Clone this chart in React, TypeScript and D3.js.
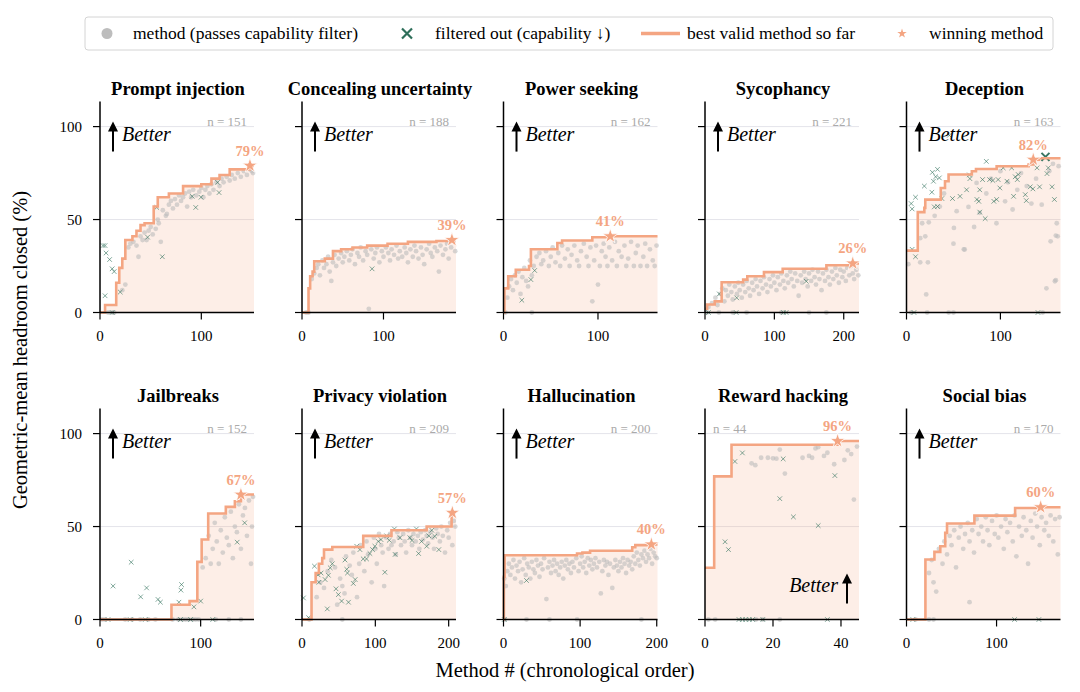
import * as d3 from 'd3'

type Pt = [number, number]

const SERIF = '"Liberation Serif", "Times New Roman", Times, serif'
const ORANGE = '#f4a582'
const GREEN = '#2e6f5a'
const GRAY = '#bdbdbd'

// ---- panel meta ----
const titles = [
  'Prompt injection', 'Concealing uncertainty', 'Power seeking', 'Sycophancy', 'Deception',
  'Jailbreaks', 'Privacy violation', 'Hallucination', 'Reward hacking', 'Social bias',
]
const counts = [151, 188, 162, 221, 163, 152, 209, 200, 44, 170]
const xLimits = [152, 189, 163, 222, 164, 153, 210, 201, 45.3, 171]
const xTicks = [[0, 100], [0, 100], [0, 100], [0, 100, 200], [0, 100], [0, 100], [0, 100, 200], [0, 100, 200], [0, 20, 40], [0, 100]]
const yTicks = [0, 50, 100]
const winners: Pt[] = [[148, 79], [184, 39], [113, 41], [213, 26.4], [135, 82.2], [140, 67.2], [205, 57.4], [193, 40.4], [39, 96], [149, 60.4]]

// ---- prompt injection ----
const promptBest: Pt[] = [[0, 0], [5, 4], [16, 16], [19, 24], [22, 29], [25, 39], [32, 41], [36, 44], [40, 47], [44, 48], [53, 57], [57, 62], [68, 64], [82, 68], [100, 69], [110, 72], [118, 74], [128, 77], [148, 79]]
const promptGray: Pt[] = [[8, 0], [12, 0], [14, 0], [22, 12], [25, 15], [28, 35], [30, 37], [33, 38], [36, 36], [38, 30], [40, 41], [42, 39], [44, 43], [46, 39], [48, 44], [50, 46], [52, 42], [55, 45], [57, 50], [58, 48], [60, 38], [62, 55], [65, 52], [66, 53], [68, 58], [70, 60], [72, 56], [74, 61], [76, 58], [78, 63], [80, 60], [82, 62], [84, 64], [86, 57], [88, 65], [90, 62], [92, 66], [95, 63], [98, 65], [100, 67], [102, 62], [104, 66], [106, 68], [108, 64], [110, 69], [112, 66], [115, 70], [118, 68], [120, 72], [122, 70], [125, 73], [128, 71], [130, 74], [133, 72], [136, 75], [139, 73], [142, 76], [145, 74], [148, 77], [150, 76], [151, 75]]
const promptOut: Pt[] = [[3, 36], [5, 36], [6, 32], [9.5, 28.5], [12, 23.5], [14, 22], [5, 9], [20, 11], [12, 0], [47, 40.5], [56, 56.5], [61.5, 30], [91, 62.5], [94.5, 56.5], [99.7, 62], [116, 70], [117.5, 64.5]]

// ---- concealing uncertainty ----
const concealBest: Pt[] = [[0, 0], [8, 13], [10, 19.5], [13, 22], [15, 27.6], [28, 29], [38, 33], [48, 34], [62, 35], [80, 36], [105, 37], [130, 38], [165, 38.5], [184, 39]]
const concealGray: Pt[] = [[5, 0], [8, 0], [12, 18], [15, 21], [18, 24], [20, 26], [22, 20], [25, 28], [27, 24], [30, 26], [32, 30], [34, 22], [36, 17], [38, 27], [40, 31], [42, 25], [45, 29], [48, 32], [50, 27], [52, 30], [55, 33], [58, 28], [60, 31], [62, 34], [65, 26], [68, 32], [70, 30], [72, 35], [75, 28], [78, 33], [80, 31], [82, 2], [85, 34], [88, 29], [90, 32], [92, 35], [95, 27], [98, 33], [100, 30], [103, 35], [106, 32], [108, 28], [110, 34], [113, 31], [116, 36], [118, 29], [120, 33], [123, 30], [126, 35], [128, 32], [130, 27], [133, 34], [136, 30], [138, 36], [140, 33], [143, 29], [146, 35], [148, 31], [150, 26], [153, 34], [156, 37], [158, 32], [160, 30], [163, 35], [166, 33], [168, 22], [170, 36], [173, 31], [176, 34], [178, 37], [180, 29], [183, 35], [186, 38], [188, 33]]
const concealOut: Pt[] = [[86, 23.5]]

// ---- power seeking ----
const powerBest: Pt[] = [[0, 0], [1, 13], [5, 19.5], [13, 23], [27, 25], [29, 34], [57, 37.4], [62, 38.7], [94, 40.5], [113, 41]]
const powerGray: Pt[] = [[2, 0], [30, 0], [4, 8], [6, 14], [8, 18], [10, 12], [12, 20], [14, 16], [16, 22], [18, 10], [20, 19], [22, 24], [24, 17], [26, 14], [28, 28], [30, 20], [32, 25], [35, 30], [38, 32], [40, 26], [42, 28], [45, 33], [48, 25], [50, 30], [52, 35], [55, 27], [58, 32], [60, 25], [62, 36], [65, 29], [68, 34], [70, 25], [72, 31], [75, 36], [78, 28], [80, 25], [82, 33], [85, 37], [88, 30], [90, 25], [92, 35], [94, 6], [96, 28], [98, 36], [100, 15], [102, 25], [104, 33], [106, 37], [108, 30], [110, 25], [112, 35], [115, 28], [118, 38], [120, 25], [122, 33], [125, 30], [128, 36], [130, 25], [132, 29], [135, 38], [138, 25], [140, 32], [142, 36], [145, 25], [148, 30], [150, 37], [152, 25], [155, 34], [158, 28], [160, 25], [162, 36]]
const powerOut: Pt[] = [[19.4, 6.6], [29, 17.7], [33, 22.6]]

// ---- sycophancy ----
const sycoBest: Pt[] = [[0, 2], [3, 4.3], [14, 6], [24, 16.3], [55, 17.7], [61, 19.5], [85, 21.7], [112, 23.5], [175, 25.4], [213, 26.4]]
const sycoGray: Pt[] = [[3, 0], [20, 0], [40, 0], [60, 0], [110, 0], [150, 0], [175, 0], [5, 3], [10, 5], [15, 8], [18, 4], [22, 10], [25, 13], [28, 6], [30, 12], [33, 9], [35, 15], [38, 11], [40, 7], [43, 14], [46, 10], [48, 16], [50, 12], [53, 8], [55, 15], [58, 11], [60, 17], [63, 13], [65, 9], [68, 16], [70, 12], [73, 18], [75, 14], [78, 10], [80, 17], [83, 13], [85, 19], [88, 15], [90, 11], [93, 18], [95, 14], [98, 20], [100, 16], [103, 12], [105, 19], [108, 15], [110, 21], [113, 17], [115, 13], [118, 20], [120, 16], [123, 22], [125, 18], [128, 14], [130, 21], [133, 17], [135, 9], [138, 20], [140, 16], [143, 22], [145, 18], [148, 14], [150, 21], [153, 17], [155, 23], [158, 19], [160, 15], [163, 22], [165, 18], [168, 12], [170, 21], [173, 17], [175, 23], [178, 19], [180, 15], [183, 22], [185, 18], [188, 24], [190, 20], [193, 16], [195, 23], [198, 19], [200, 22], [203, 17], [205, 24], [208, 20], [210, 25], [213, 21], [215, 18], [218, 23], [221, 20]]
const sycoOut: Pt[] = [[20.6, 10], [45.7, 7.9], [146, 16.8], [5, 0], [45, 0], [113, 0], [117, 0]]

// ---- deception ----
const decepBest: Pt[] = [[0, 33.3], [12, 54], [19, 56.3], [20, 60.7], [36.5, 67], [41, 70.6], [44.8, 74.2], [69.6, 76], [74, 77.2], [96, 78.7], [130, 79.6], [135, 82.2], [141, 83]]
const decepGray: Pt[] = [[5, 0], [22, 0], [45, 0], [50, 0], [145, 0], [2, 26], [14.6, 27], [22.8, 27], [21, 9.7], [14.6, 40], [20, 41], [16.7, 48], [23.7, 48.5], [35.5, 57], [30, 52], [40, 64], [50, 37], [50.5, 45.5], [53.4, 54.5], [61, 34], [62, 33.9], [66, 56.8], [72, 46], [74.6, 69.7], [78, 53.6], [85, 64], [90, 72], [95.8, 48], [100, 76], [105, 59.8], [108, 70], [113, 55.4], [118, 66], [122, 75], [128, 68], [133, 58.6], [138, 72], [144, 58], [149, 13], [152, 76], [153.5, 38.3], [158, 16.8], [159, 41.4], [159, 17.4], [160, 48], [161, 41], [162, 78.7], [156, 80]]
const decepOut: Pt[] = [[8, 0], [140, 0], [6, 34], [9.6, 30], [5, 58.6], [6, 55.7], [9.6, 62], [19, 68], [27, 64.7], [27.6, 75.4], [33, 77], [31, 73], [28.7, 70.6], [35, 72.4], [29.6, 56.8], [33, 57], [37.7, 61.3], [45.6, 95.3], [49, 61.3], [57, 62.5], [64, 66], [67, 74], [67.5, 72], [75, 60.8], [77, 59.8], [78, 66], [78, 54], [81, 71.5], [83.8, 50.5], [85, 81.3], [88.5, 71.5], [92, 71], [93, 59.8], [96, 60.8], [97.6, 71.5], [99.4, 67], [103, 77.8], [107, 70.6], [112, 77.8], [114, 62.5], [115.8, 73], [118, 71.5], [119, 74.2], [126.5, 63.4], [127.6, 60.2], [131.8, 67.6], [134.6, 66.5], [139, 77.8], [141.7, 67.6], [149.6, 74.7], [151, 77.8], [155, 67.6], [157.5, 60.8]]
const decepTopOut: Pt = [148, 83.7]

// ---- jailbreaks ----
const jailBest: Pt[] = [[0, 0], [71, 7.9], [89, 9.9], [96.7, 31], [101, 43], [107.5, 57], [125, 60.6], [134, 63.6], [140, 67.2]]
const jailGray: Pt[] = [[2, 0], [5, 0], [25, 0], [32, 0], [40, 0], [48, 0], [55, 0], [72, 0], [78, 0], [82, 0], [85, 0], [88, 0], [92, 0], [95, 0], [98, 0], [115, 0], [128, 0], [140, 0], [102, 28], [105, 33], [108, 45], [110, 30], [112, 38], [114, 52], [116, 42], [118, 30], [120, 48], [122, 36], [124, 55], [126, 44], [128, 40], [130, 58], [132, 33], [134, 50], [136, 47], [138, 62], [140, 38], [142, 56], [144, 60], [146, 45], [148, 64], [150, 30], [151, 50], [152, 66]]
const jailOut: Pt[] = [[8, 0], [30, 0], [45, 0], [80, 0], [90, 0], [112, 0], [13, 18], [31, 30.8], [40.4, 12.2], [46.3, 17], [57.6, 10.8], [60, 9.3], [78.4, 9.3], [81, 18.8], [80.4, 15.8], [93.3, 6.8], [100, 9.9], [136.3, 41.6], [143.7, 52]]

// ---- privacy violation ----
const privBest: Pt[] = [[0, 0], [13, 20], [18.6, 25], [23, 30], [27.6, 33], [30, 37.6], [41.3, 39], [83.5, 45], [122, 48], [170, 50], [204, 57.4]]
const privGray: Pt[] = [[10, 0], [55, 0], [20, 12], [25, 20], [30, 17], [35, 26], [40, 32], [45, 28], [48, 8], [52, 22], [55, 18], [58, 14], [60, 34], [65, 29], [68, 24], [70, 36], [75, 12], [78, 30], [80, 40], [85, 26], [88, 42], [90, 35], [95, 20], [98, 44], [100, 38], [102, 30], [105, 46], [108, 40], [110, 36], [112, 18], [115, 44], [118, 38], [120, 46], [122, 40], [125, 42], [128, 35], [130, 47], [132, 44], [135, 40], [138, 46], [140, 42], [142, 36], [145, 48], [148, 44], [150, 40], [152, 46], [155, 42], [158, 45], [160, 38], [162, 47], [165, 43], [168, 48], [170, 45], [172, 41], [175, 47], [178, 44], [180, 38], [183, 49], [185, 46], [188, 42], [190, 50], [192, 45], [195, 36], [198, 48], [200, 44], [202, 52], [205, 40], [207, 53], [209, 50]]
const privOut: Pt[] = [[2, 11.6], [9, 1], [17, 28.7], [22, 24], [23, 20], [26, 25], [31.5, 21.5], [36, 23.8], [38.5, 27.8], [34.5, 5.7], [41.3, 30], [46.4, 16.5], [49.6, 13.4], [58.6, 32], [61, 27], [62, 25], [54, 9.9], [63.4, 9.3], [70, 19.4], [72.5, 21.5], [79, 37.6], [74.6, 39.4], [83.5, 32.6], [88, 32.6], [92.6, 35.5], [96.2, 37.6], [99.4, 39.4], [104, 42], [107.7, 43], [113, 25.4], [115.5, 45], [119, 42.6], [126, 48.7], [127, 35], [133.6, 44], [147, 44], [150, 42.5], [156, 48.7], [159, 35.5], [163, 42], [170, 39.4], [173, 45], [181, 44.8], [186.6, 37.6], [177, 48]]

// ---- hallucination ----
const hallBest: Pt[] = [[0, 0], [0.5, 23], [1.5, 34.6], [96, 35.5], [103, 36], [113, 37], [168, 38.9], [172, 40], [193, 40.4]]
const hallGray: Pt[] = [[2, 0], [30, 0], [60, 0], [96, 0], [180, 0], [1, 22], [3, 18], [5, 26], [7, 30], [9, 24], [11, 28], [13, 32], [15, 22], [17, 29], [19, 26], [21, 31], [23, 20], [25, 27], [27, 33], [29, 24], [31, 30], [33, 28], [35, 22], [37, 31], [39, 27], [41, 25], [43, 32], [45, 29], [47, 23], [49, 30], [51, 27], [53, 33], [56, 11], [58, 28], [60, 31], [62, 25], [64, 29], [66, 32], [68, 26], [70, 30], [72, 24], [74, 28], [76, 31], [78, 22], [80, 29], [82, 32], [84, 27], [86, 30], [88, 25], [90, 31], [92, 28], [95, 33], [98, 26], [100, 30], [102, 34], [104, 28], [106, 31], [108, 25], [110, 33], [112, 29], [114, 32], [116, 27], [118, 30], [120, 33], [122, 28], [125, 31], [127, 14], [129, 26], [131, 32], [133, 29], [135, 31], [137, 24], [139, 30], [142, 17], [144, 28], [146, 32], [148, 29], [150, 26], [152, 31], [154, 28], [156, 33], [158, 30], [160, 25], [162, 32], [164, 29], [166, 31], [168, 27], [170, 34], [172, 30], [174, 36], [176, 32], [178, 29], [180, 35], [182, 33], [184, 37], [186, 31], [188, 35], [190, 33], [192, 38], [194, 30], [196, 36], [198, 34], [200, 33]]
const hallOut: Pt[] = [[1, 0], [30, 21]]

// ---- reward hacking ----
const rewardBest: Pt[] = [[0, 27.8], [2.7, 77], [7.8, 94], [39, 96]]
const rewardGray: Pt[] = [[1, 0], [3, 0], [15, 0], [17, 0], [22, 0], [13.7, 84], [14.8, 83], [16.5, 87], [18.5, 87], [20, 86.7], [21, 86.5], [22, 91.4], [23.5, 78.5], [28.7, 87], [30.6, 88], [31.5, 87], [32.5, 92], [33.3, 92.7], [35, 88], [36, 89.7], [38, 83.5], [41, 85.8], [42, 91], [43, 89], [44.7, 93], [43.8, 64.5]]
const rewardOut: Pt[] = [[10, 0], [11, 0], [12, 0], [13, 0], [14, 0], [17, 0], [36, 0], [5.9, 41.8], [6.9, 37.6], [8.8, 85], [11, 89.6], [23, 86.4], [22, 65], [26, 55.2], [33.3, 50.5], [38.2, 77.4]]

// ---- social bias ----
const socialBest: Pt[] = [[0, 0], [21, 32.3], [31, 36.4], [37.5, 39.4], [43, 46.6], [45, 51.6], [75.4, 55.9], [120.6, 60], [149, 60.4]]
const socialGray: Pt[] = [[10, 0], [25, 0], [30, 0], [25, 25], [28, 32], [30, 20], [33, 15], [36, 38], [40, 30], [42, 42], [45, 35], [48, 45], [50, 40], [53, 48], [55, 28], [58, 44], [60, 50], [63, 38], [65, 46], [68, 52], [70, 9.3], [70, 42], [73, 48], [75, 36], [78, 54], [80, 46], [83, 50], [85, 42], [88, 55], [90, 48], [92, 40], [95, 53], [98, 46], [100, 56], [102, 44], [105, 50], [108, 38], [110, 54], [112, 47], [115, 52], [118, 42], [120, 56], [122, 34], [125, 50], [128, 45], [130, 55], [133, 48], [135, 30], [138, 53], [140, 44], [143, 57], [145, 50], [148, 40], [150, 55], [153, 48], [155, 52], [158, 45], [160, 56], [163, 42], [165, 54], [168, 35], [170, 55]]
const socialOut: Pt[] = [[7, 0], [120, 0], [147, 0]]

const bestSets = [promptBest, concealBest, powerBest, sycoBest, decepBest, jailBest, privBest, hallBest, rewardBest, socialBest]
const graySets = [promptGray, concealGray, powerGray, sycoGray, decepGray, jailGray, privGray, hallGray, rewardGray, socialGray]
const outSets = [promptOut, concealOut, powerOut, sycoOut, decepOut, jailOut, privOut, hallOut, rewardOut, socialOut]

// ---- layout ----
const colLeft = [100, 302, 503.5, 705, 906.5]
const rowBase = [312.5, 619.5]
const PW = 154
const PH = 211

const starPath = (size: number) => d3.symbol(d3.symbolStar, size)() as string

function Cross({ cx, cy, r, color, width, opacity }: { cx: number; cy: number; r: number; color: string; width: number; opacity: number }) {
  return (
    <path
      d={`M${cx - r},${cy - r}L${cx + r},${cy + r}M${cx - r},${cy + r}L${cx + r},${cy - r}`}
      stroke={color}
      strokeWidth={width}
      opacity={opacity}
      fill="none"
    />
  )
}

function Panel({ i }: { i: number }) {
  const col = i % 5
  const row = Math.floor(i / 5)
  const L = colLeft[col]
  const B = rowBase[row]
  const x = d3.scaleLinear().domain([0, xLimits[i]]).range([L, L + PW])
  const y = d3.scaleLinear().domain([0, 113.5]).range([B, B - PH])
  const best = bestSets[i]
  const stepPts: Pt[] = [...best, [xLimits[i], best[best.length - 1][1]]]
  const line = d3.line<Pt>().x((d) => x(d[0])).y((d) => y(d[1])).curve(d3.curveStepAfter)
  const area = d3.area<Pt>().x((d) => x(d[0])).y0(y(0)).y1((d) => y(d[1])).curve(d3.curveStepAfter)
  const [wx, wy] = winners[i]
  const isReward = i === 8
  const arrowX = isReward ? L + 142 : L + 13
  const arrowTip = isReward ? B - 46 : y(100) - 5
  const arrowTail = isReward ? B - 16 : y(100) + 25

  return (
    <g>
      {[50, 100].map((v) => (
        <line key={v} x1={L} x2={L + PW} y1={y(v)} y2={y(v)} stroke="#e4e4ea" strokeWidth={1} />
      ))}
      <path d={area(stepPts) as string} fill={ORANGE} fillOpacity={0.19} />
      {graySets[i].map((d, k) => (
        <circle key={k} cx={x(d[0])} cy={y(d[1])} r={2.4} fill={GRAY} fillOpacity={0.6} />
      ))}
      {outSets[i].map((d, k) => (
        <Cross key={k} cx={x(d[0])} cy={y(d[1])} r={2.3} color={GREEN} width={1} opacity={0.6} />
      ))}
      {i === 4 && (
        <Cross cx={x(decepTopOut[0])} cy={y(decepTopOut[1])} r={4} color={GREEN} width={2} opacity={0.95} />
      )}
      <path d={line(stepPts) as string} fill="none" stroke={ORANGE} strokeWidth={2.6} />
      <path d={starPath(70)} transform={`translate(${x(wx)},${y(wy)})`} fill={ORANGE} stroke="#fff" strokeWidth={0.8} />
      <text x={x(wx)} y={y(wy) - 10} textAnchor="middle" fontFamily={SERIF} fontWeight="bold" fontSize={14.5} fill={ORANGE}>
        {`${Math.round(wy)}%`}
      </text>

      {/* spines */}
      <line x1={L} x2={L} y1={B} y2={B - PH} stroke="#000" strokeWidth={1.5} />
      <line x1={L} x2={L + PW} y1={B} y2={B} stroke="#000" strokeWidth={1.5} />
      {yTicks.map((v) => (
        <g key={v}>
          <line x1={L - 7} x2={L} y1={y(v)} y2={y(v)} stroke="#000" strokeWidth={1.2} />
          {col === 0 && (
            <text x={L - 18} y={y(v)} textAnchor="end" dominantBaseline="central" fontFamily={SERIF} fontSize={15}>
              {v}
            </text>
          )}
        </g>
      ))}
      {xTicks[i].map((v) => (
        <g key={v}>
          <line x1={x(v)} x2={x(v)} y1={B} y2={B + 7} stroke="#000" strokeWidth={1.2} />
          <text x={x(v)} y={B + 28} textAnchor="middle" fontFamily={SERIF} fontSize={15}>
            {v}
          </text>
        </g>
      ))}

      <text x={L + 78} y={B - 217.5} textAnchor="middle" fontFamily={SERIF} fontWeight="bold" fontSize={18.5}>
        {titles[i]}
      </text>
      <text
        x={isReward ? L + 8 : L + 147}
        y={y(100) - 1}
        textAnchor={isReward ? 'start' : 'end'}
        fontFamily={SERIF}
        fontSize={13}
        fill="#aaaaaa"
      >
        {`n = ${counts[i]}`}
      </text>

      {/* better annotation */}
      <line x1={arrowX} x2={arrowX} y1={arrowTail} y2={arrowTip + 8} stroke="#000" strokeWidth={2} />
      <path d={`M${arrowX - 5},${arrowTip + 10}L${arrowX},${arrowTip}L${arrowX + 5},${arrowTip + 10}Z`} fill="#000" />
      <text
        x={isReward ? L + 133 : L + 22}
        y={isReward ? B - 28 : y(100) + 14}
        textAnchor={isReward ? 'end' : 'start'}
        fontFamily={SERIF}
        fontStyle="italic"
        fontSize={20}
      >
        Better
      </text>
    </g>
  )
}

function Legend() {
  return (
    <g fontFamily={SERIF} fontSize={17.5}>
      <rect x={85} y={17} width={968} height={33} rx={3} fill="#fff" stroke="#d4d4d4" strokeWidth={1} />
      <circle cx={107} cy={33.5} r={5.5} fill={GRAY} />
      <text x={133} y={39}>method (passes capability filter)</text>
      <Cross cx={407} cy={33.5} r={5} color={GREEN} width={2.2} opacity={1} />
      <text x={435} y={39}>filtered out (capability ↓)</text>
      <line x1={641} x2={680} y1={33.5} y2={33.5} stroke={ORANGE} strokeWidth={3.5} />
      <text x={687} y={39}>best valid method so far</text>
      <path d={starPath(28)} transform="translate(902,33.5)" fill={ORANGE} />
      <text x={929} y={39}>winning method</text>
    </g>
  )
}

export default function App() {
  return (
    <svg
      width={1080}
      height={692}
      style={{ position: 'absolute', left: 0, top: 0, background: '#fff' }}
      fontFamily={SERIF}
    >
      <Legend />
      {titles.map((_, i) => (
        <Panel key={i} i={i} />
      ))}
      <text
        transform="translate(20,350) rotate(-90)"
        textAnchor="middle"
        dominantBaseline="central"
        fontFamily={SERIF}
        fontSize={20.5}
      >
        Geometric-mean headroom closed (%)
      </text>
      <text x={565} y={677} textAnchor="middle" fontFamily={SERIF} fontSize={20.5}>
        Method # (chronological order)
      </text>
    </svg>
  )
}
